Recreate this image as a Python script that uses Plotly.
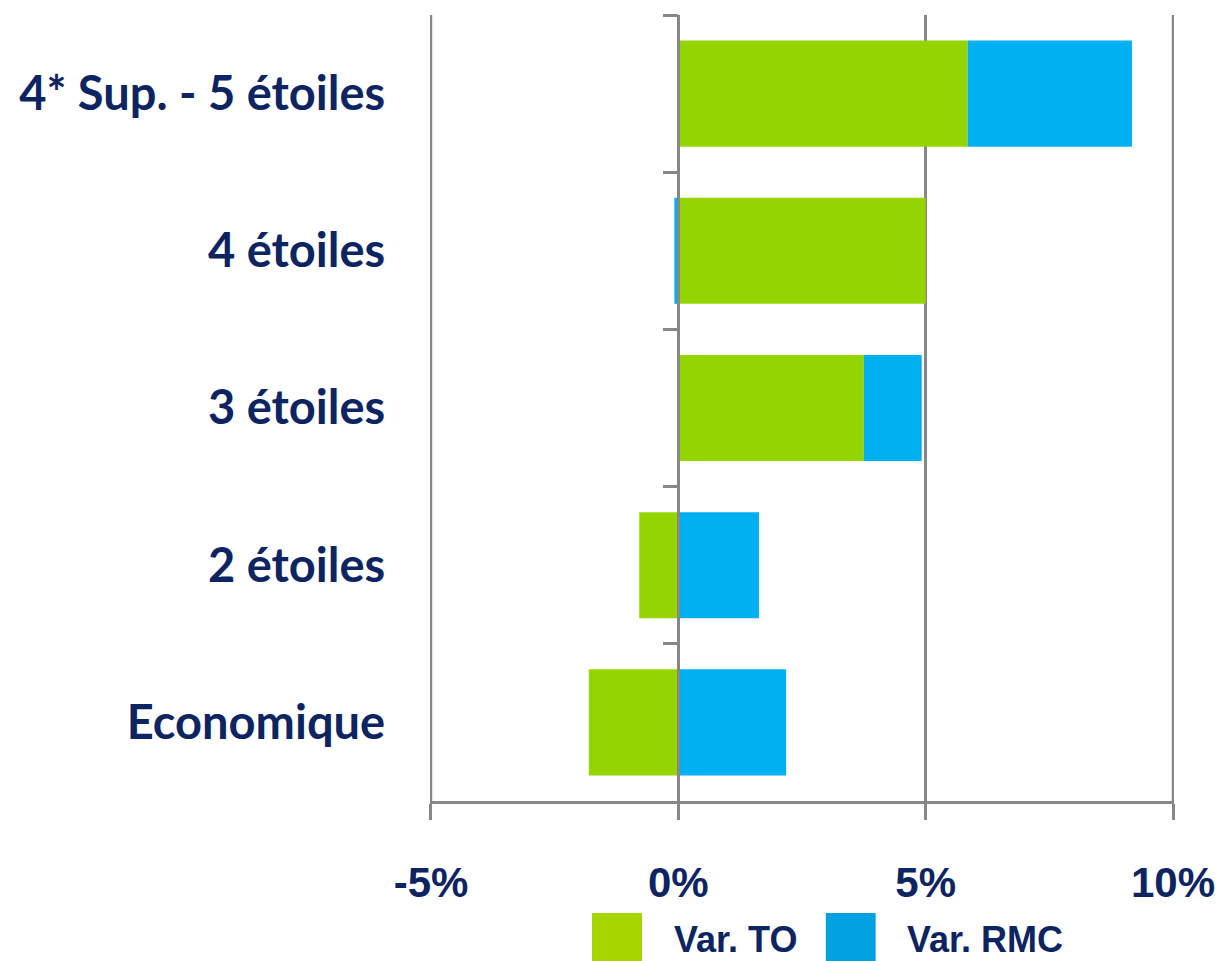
import plotly.graph_objects as go

categories = ["4* Sup. - 5 étoiles", "4 étoiles", "3 étoiles", "2 étoiles", "Economique"]
var_to = [5.85, 5.0, 3.75, -0.79, -1.81]
var_rmc = [3.32, -0.08, 1.17, 1.63, 2.18]
tick_vals = [-5, 0, 5, 10]
tick_text = ["-5%", "0%", "5%", "10%"]
series_names = ["Var. TO", "Var. RMC"]

NAVY = "#0c2461"
GREEN = "#94d400"
BLUE = "#00b0f0"
GRID = "#878787"

fig = go.Figure()
fig.add_trace(go.Bar(y=categories, x=var_to, orientation="h", name=series_names[0],
                     marker=dict(color=GREEN, line=dict(width=0)), showlegend=False))
fig.add_trace(go.Bar(y=categories, x=var_rmc, orientation="h", name=series_names[1],
                     marker=dict(color=BLUE, line=dict(width=0)), showlegend=False))

fig.update_layout(
    width=1225, height=961,
    margin=dict(l=422, r=59, t=7, b=168, autoexpand=False),
    barmode="relative", bargap=0.325,
    plot_bgcolor="white", paper_bgcolor="white",
    xaxis=dict(range=[-5.02, 10.02], tickvals=tick_vals, ticktext=tick_text,
               showgrid=True, gridcolor=GRID, gridwidth=2.5,
               zeroline=True, zerolinecolor=GRID, zerolinewidth=2.5,
               showline=True, linecolor=GRID, linewidth=2.5,
               ticks="outside", ticklen=16, tickwidth=2.5, tickcolor=GRID,
               ticklabelstandoff=27,
               tickfont=dict(family="Liberation Sans", size=42, color=NAVY, weight="bold"),
               automargin=False),
    yaxis=dict(type="category", categoryarray=categories, range=[4.5, -0.5],
               anchor="free", position=5.02/15.04, layer="above traces",
               showgrid=False, zeroline=False, showline=True, linecolor=GRID, linewidth=2.5,
               ticks="outside", tickson="boundaries", ticklen=15, tickwidth=2.5, tickcolor=GRID,
               ticklabelstandoff=283,
               tickfont=dict(family="Lato", size=47, color=NAVY, weight="bold"),
               automargin=False),
)

# gridlines at the range edges (plotly omits them at the plot border)
for v in (tick_vals[0], tick_vals[-1]):
    fig.add_shape(type="line", xref="x", yref="paper", x0=v, x1=v, y0=0, y1=1,
                  line=dict(color=GRID, width=2.5), layer="below")

# legend drawn manually with large swatches
legend_items = [(series_names[0], "#a6d500", 0.2177, 0.285, 0.325),
                (series_names[1], "#00a2e0", 0.532, 0.599, 0.638)]
for name, col, x0, x1, tx in legend_items:
    fig.add_shape(type="rect", xref="paper", yref="paper", x0=x0, x1=x1, y0=-0.1425, y1=-0.21,
                  fillcolor=col, line=dict(width=0))
    fig.add_annotation(xref="paper", yref="paper", x=tx, y=-0.176, text=name, showarrow=False,
                       xanchor="left", yanchor="middle",
                       font=dict(family="Liberation Sans", size=36, color=NAVY, weight="bold"))

fig.write_html("out.html")
